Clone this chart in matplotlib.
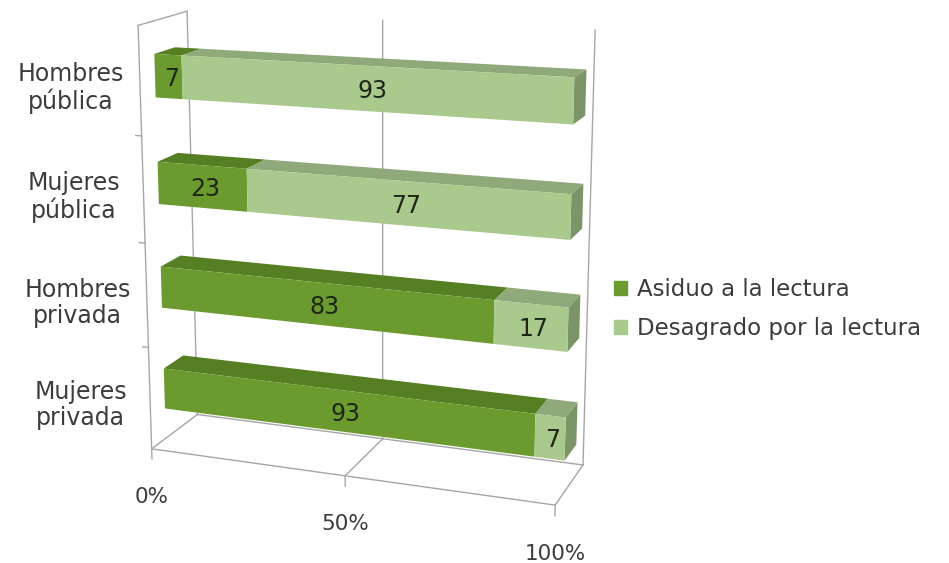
import numpy as np
import matplotlib
matplotlib.use("Agg")
import matplotlib.pyplot as plt
from matplotlib.patches import Patch
from matplotlib.transforms import Transform

categorias = ["Hombres\npública", "Mujeres\npública", "Hombres\nprivada", "Mujeres\nprivada"]
asiduo = [7, 23, 83, 93]
desagrado = [93, 77, 17, 7]
series = ["Asiduo a la lectura", "Desagrado por la lectura"]
ticks = [0, 50, 100]
tick_labels = ["0%", "50%", "100%"]

W, H = 949, 563

# esquinas del marco 3D: (porcentaje, nivel, profundidad) -> pixel
calib = [
    ((0, 0, 0), (152, 450)),
    ((50, 0, 0), (345, 477)),
    ((100, 0, 0), (555, 503)),
    ((0, 0, 1), (197, 413)),
    ((50, 0, 1), (383, 438)),
    ((100, 0, 1), (583, 467)),
    ((0, 4, 1), (187, 12)),
    ((50, 4, 1), (383, 20)),
    ((100, 4, 1), (595, 30)),
    ((0, 4, 0), (138, 25)),
]

A = []
for (X, V, Z), (u, v) in calib:
    w = [X / 100, V / 4, Z, 1]
    A.append(w + [0] * 4 + [-u / 500 * c for c in w])
    A.append([0] * 4 + w + [-v / 500 * c for c in w])
cam = np.linalg.svd(np.array(A))[2][-1].reshape(3, 4)


class Proyeccion(Transform):
    input_dims = 2
    output_dims = 2
    is_separable = False
    has_inverse = False

    def __init__(self, fn):
        super().__init__()
        self.fn = fn

    def transform_non_affine(self, values):
        uv = np.asarray(values, float).reshape(-1, 2)
        X, V, Z = np.broadcast_arrays(*self.fn(uv[:, 0], uv[:, 1]))
        h = np.column_stack([X / 100, V / 4, Z, np.ones(len(uv))]) @ cam.T
        px = h[:, 0] / h[:, 2] * 500
        py = h[:, 1] / h[:, 2] * 500
        return np.column_stack([px / W, 1 - py / H])


fig = plt.figure(figsize=(W / 100, H / 100), dpi=100)
ax = fig.add_axes([0, 0, 1, 1])
ax.axis("off")


def plano(fn):
    return Proyeccion(fn) + ax.transAxes


z0, z1 = 0.3, 0.72
grosor = 0.4
nivel = len(categorias) - 0.5 - np.arange(len(categorias))

frente = plano(lambda x, v: (x, v, z0))
pared = plano(lambda x, v: (x, v, 0))
suelo = plano(lambda x, z: (x, 0, z))
fondo = plano(lambda x, v: (x, v, 1))
lateral = plano(lambda z, v: (0, v, z))

gris = "#a6a6a6"
# paredes y rejilla
for p in ticks:
    ax.plot([p, p], [0, 1], color=gris, lw=1, transform=suelo, zorder=1)
    ax.plot([p, p], [0, 4], color=gris, lw=1, transform=fondo, zorder=1)
    ax.plot([p, p], [0, -0.1], color=gris, lw=1, transform=pared, zorder=1)
ax.plot([0, 100], [0, 0], color=gris, lw=1, transform=pared, zorder=1)
ax.plot([0, 100], [1, 1], color=gris, lw=1, transform=suelo, zorder=1)
ax.plot([0, 0], [0, 4], color=gris, lw=1, transform=pared, zorder=1)
ax.plot([0, 1], [4, 4], color=gris, lw=1, transform=lateral, zorder=1)
for k in range(1, 4):
    ax.plot([0, -1.5], [k, k], color=gris, lw=1, transform=pared, zorder=1)

caras = [("#6b9b2f", "#557f22", "#4a701d"), ("#a9c98d", "#8fa97a", "#7b9568")]
base = np.zeros(len(categorias))
for valores, (c_frente, c_arriba, c_lado) in zip([asiduo, desagrado], caras):
    valores = np.array(valores, float)
    ax.barh(nivel, valores, left=base, height=grosor, color=c_frente,
            transform=frente, zorder=3)
    for y, a, val in zip(nivel, base, valores):
        b = a + val
        yt = y + grosor / 2
        arriba = plano(lambda x, z, yt=yt: (x, yt, z))
        ax.fill([a, b, b, a], [z0, z0, z1, z1], color=c_arriba, lw=0,
                transform=arriba, zorder=2)
        if b >= 100:
            lado = plano(lambda z, v, xb=b: (xb, v, z))
            ax.fill([z0, z1, z1, z0], [y - grosor / 2, y - grosor / 2, yt, yt],
                    color=c_lado, lw=0, transform=lado, zorder=2)
        ax.annotate(f"{val:.0f}", xy=(a + val / 2, y), xycoords=frente,
                    xytext=(2, -2), textcoords="offset points", ha="center",
                    va="center", fontsize=17, color="#1e2616", zorder=4)
    base = base + valores

for cat, y in zip(categorias, nivel):
    ax.annotate(cat, xy=(0, y), xycoords=pared, xytext=(-50, -5),
                textcoords="offset points", ha="center", va="center",
                fontsize=17, linespacing=1.1, color="#3c3c3c")

for p, lab in zip(ticks, tick_labels):
    ax.annotate(lab, xy=(p, 0), xycoords=pared, xytext=(0, -35),
                textcoords="offset points", ha="center", va="center",
                fontsize=15.5, color="#3c3c3c")

handles = [Patch(color=c[0]) for c in caras]
fig.legend(handles, series, loc="center left", bbox_to_anchor=(614 / W, 1 - 309 / H),
           frameon=False, fontsize=16.5, handlelength=0.55, handleheight=0.55,
           handletextpad=0.45, labelspacing=0.7, borderpad=0, borderaxespad=0,
           labelcolor="#3c3c3c")

fig.savefig("out.png", dpi=100)
